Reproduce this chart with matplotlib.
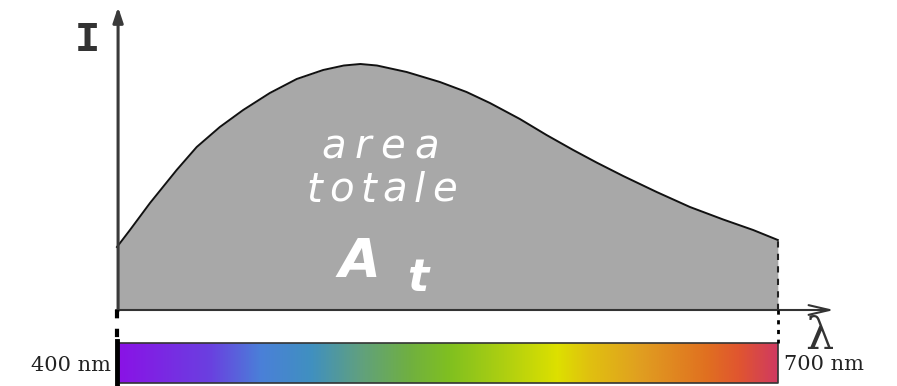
import matplotlib

matplotlib.use("Agg")

import matplotlib.pyplot as plt
import numpy as np
from matplotlib.colors import LinearSegmentedColormap
from matplotlib.transforms import IdentityTransform

# emission spectrum (wavelength in nm, intensity in arbitrary units)
wavelength = [400, 405.9, 415.0, 427.1, 436.2, 446.7, 457.3, 469.4, 481.6,
              493.6, 503.0, 510.5, 518.0, 531.5, 546.6, 558.7, 569.3, 582.9,
              595.0, 607.1, 617.7, 629.8, 645.0, 660.1, 675.2, 688.8, 700]
intensity = [0.63, 0.80, 1.07, 1.40, 1.63, 1.83, 2.00, 2.17, 2.31,
             2.40, 2.445, 2.46, 2.445, 2.38, 2.28, 2.18, 2.07, 1.91,
             1.75, 1.60, 1.475, 1.34, 1.18, 1.03, 0.905, 0.80, 0.70]

# visible band colours along the wavelength strip
band_nm = [400, 442, 465, 488, 510, 533, 551, 577, 600, 615, 637, 668, 683, 700]
band_colors = ["#8a12e6", "#6a40e0", "#4a80d8", "#4090c0", "#60a080", "#70b040",
               "#80c020", "#b0d010", "#dde000", "#e0c010", "#e0a020", "#e07020",
               "#e05530", "#d03a60"]

band_label_left = "400 nm"
band_label_right = "700 nm"


def tracked_text(ax, x, y, s, width_px, **kw):
    """Draw s centred at data (x, y), letters spread to span width_px pixels."""
    renderer = ax.figure.canvas.get_renderer()
    widths = []
    for ch in s:
        t = ax.text(0, 0, ch, **kw)
        widths.append(t.get_window_extent(renderer).width)
        t.remove()
    gap = (width_px - sum(widths)) / max(len(s) - 1, 1)
    x_px, y_px = ax.transData.transform((x, y))
    pos = x_px - width_px / 2
    for ch, w in zip(s, widths):
        ax.text(pos, y_px, ch, transform=IdentityTransform(), ha="left",
                va="baseline", **kw)
        pos += w + gap


fig = plt.figure(figsize=(8.97, 3.86), dpi=100)
ax = fig.add_axes([0, 0, 1, 1])
ax.set_xlim(346.9, 754.1)
ax.set_ylim(-0.76, 3.10)
ax.axis("off")

wl = np.array(wavelength)
it = np.array(intensity)

# shaded area under the spectrum
ax.fill_between(wl, 0, it, color="#a8a8a8", lw=0, zorder=1)
ax.plot(wl, it, color="#111111", lw=1.4, zorder=3, solid_joinstyle="round")
ax.plot([wl[-1], wl[-1]], [0, it[-1]], color="#222222", lw=1.5,
        ls=(0, (3, 3)), zorder=3)

# axes arrows
ax.annotate("", xy=(400.5, 3.03), xytext=(400.5, -0.01),
            arrowprops=dict(arrowstyle="-|>,head_length=0.9,head_width=0.3",
                            color="#3a3a3a", lw=2.2, shrinkA=0, shrinkB=0),
            zorder=4)
ax.annotate("", xy=(725.5, 0), xytext=(399.5, 0),
            arrowprops=dict(arrowstyle="->,head_length=1.5,head_width=0.35",
                            color="#333333", lw=1.5, shrinkA=0, shrinkB=0),
            zorder=4)

# dotted guides down to the colour strip
ax.plot([400.2, 400.2], [0, -0.33], color="black", lw=3, ls=(0, (2, 2.5)), zorder=4)
ax.plot([wl[-1], wl[-1]], [0, -0.33], color="black", lw=2, ls=(0, (1.5, 2)), zorder=4)

# colour strip of the visible range
cmap = LinearSegmentedColormap.from_list(
    "visible", list(zip((np.array(band_nm) - 400) / 300, band_colors)))
grad = np.linspace(0, 1, 512).reshape(1, -1)
ax.imshow(grad, cmap=cmap, aspect="auto", extent=(400, 700, -0.73, -0.33),
          interpolation="bilinear", zorder=2)
ax.plot([400, 700, 700, 400, 400], [-0.33, -0.33, -0.73, -0.73, -0.33],
        color="#333333", lw=1.2, zorder=3)
ax.plot([400.2, 400.2], [-0.31, -0.75], color="black", lw=3.5, zorder=4)

ax.text(397.5, -0.555, band_label_left, ha="right", va="center",
        family="DejaVu Serif", fontsize=15, color="#222222")
ax.text(703, -0.545, band_label_right, ha="left", va="center",
        family="DejaVu Serif", fontsize=15, color="#222222")

# axis labels
ax.text(386.6, 2.70, "I", ha="center", va="center", family="Liberation Mono",
        fontweight="bold", fontsize=30, color="#333333")
ax.text(718.6, -0.26, "λ", ha="center", va="center", family="DejaVu Serif",
        fontsize=32, color="#333333")

# label inside the shaded area
label_kw = dict(style="italic", family="DejaVu Sans", fontsize=29, color="white")
tracked_text(ax, 519.4, 1.52, "area", 117, **label_kw)
tracked_text(ax, 520.1, 1.085, "totale", 150, **label_kw)
ax.text(510.3, 0.33, "A", ha="center", va="baseline", style="italic",
        fontweight="bold", family="DejaVu Sans", fontsize=39, color="white")
ax.text(531.5, 0.19, "t", ha="left", va="baseline", style="italic",
        fontweight="bold", family="DejaVu Sans", fontsize=32, color="white")

fig.savefig("out.png", dpi=100)
plt.close(fig)
